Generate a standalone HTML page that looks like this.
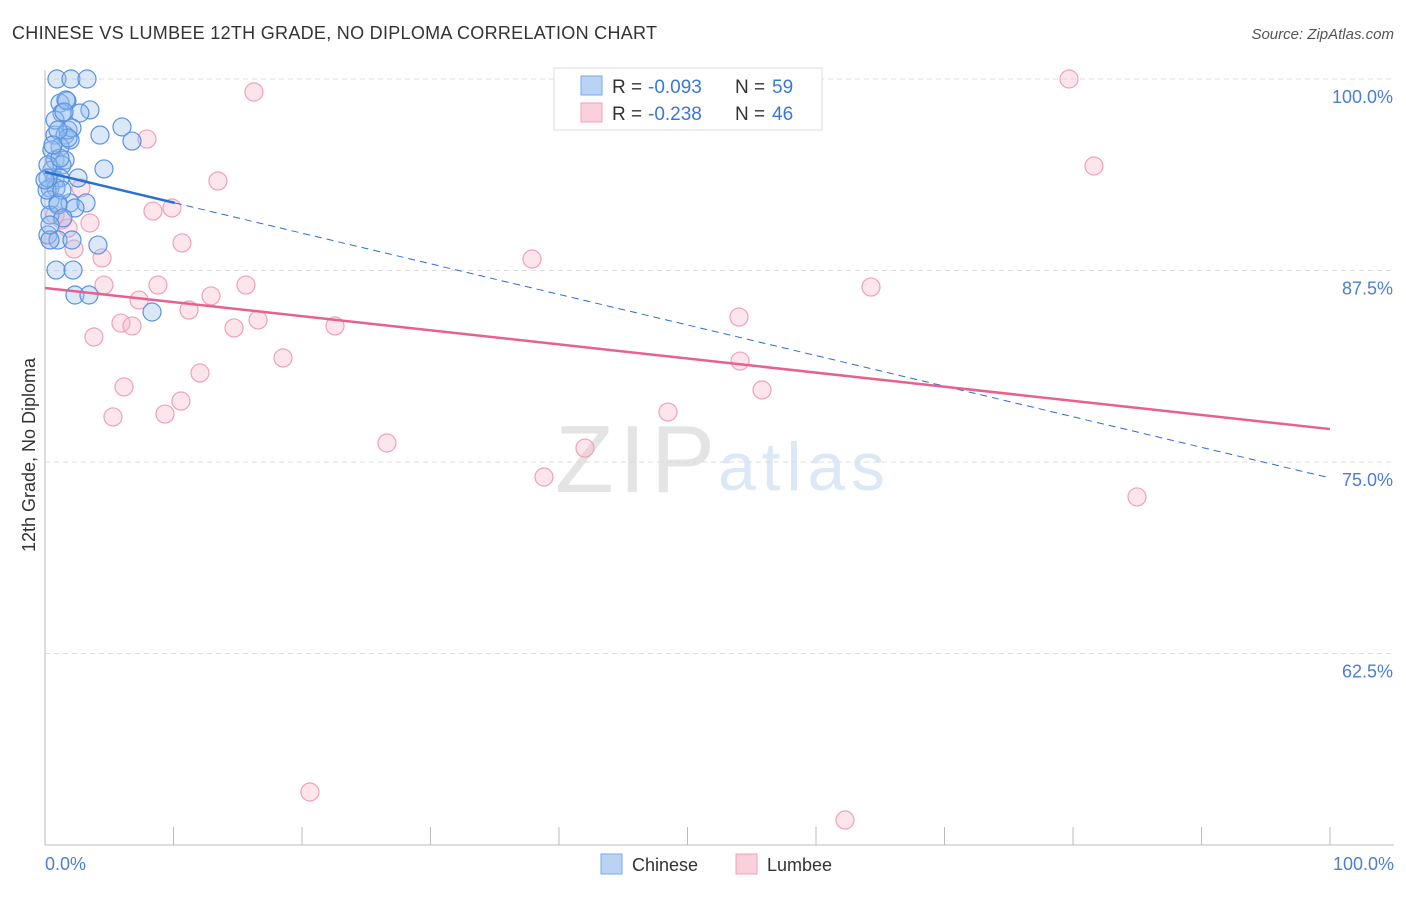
<!DOCTYPE html>
<html><head><meta charset="utf-8">
<style>
body{margin:0;background:#fff;font-family:"Liberation Sans",sans-serif;}
svg text{font-family:"Liberation Sans",sans-serif;}
</style></head>
<body>
<svg id="chart" width="1406" height="892">
<text x="12" y="39" font-size="18" fill="#333" textLength="645">CHINESE VS LUMBEE 12TH GRADE, NO DIPLOMA CORRELATION CHART</text>
<text x="1394" y="39" font-size="15" fill="#555" text-anchor="end" font-style="italic">Source: ZipAtlas.com</text>
<text x="555" y="492" font-size="96" fill="#e4e4e4" textLength="160" font-family="Liberation Serif, serif">ZIP</text>
<text x="718" y="490" font-size="68" fill="#dce8f6" textLength="167">atlas</text>
<g id="grid"></g>
<g id="axes"></g>
<g id="points"></g>
<g id="lines"></g>
<text transform="translate(35,455) rotate(-90)" font-size="18" fill="#333" text-anchor="middle">12th Grade, No Diploma</text>
<text x="45" y="870" font-size="18" fill="#4a7fd4">0.0%</text>
<text x="1394" y="870" font-size="18" fill="#4a7fd4" text-anchor="end">100.0%</text>
<g>
<rect x="554" y="68" width="268" height="62" fill="#fff" stroke="#ddd"/>
<rect x="581" y="76" width="21" height="19" fill="#b9d3f5" stroke="#7aa8e8"/>
<rect x="581" y="103" width="21" height="19" fill="#fbd0dd" stroke="#f0a0b8"/>
<text x="612" y="93" font-size="19" fill="#333">R =</text>
<text x="648" y="93" font-size="19" fill="#3a78d8">-0.093</text>
<text x="735" y="93" font-size="19" fill="#333">N =</text>
<text x="772" y="93" font-size="19" fill="#3a78d8">59</text>
<text x="612" y="120" font-size="19" fill="#333">R =</text>
<text x="648" y="120" font-size="19" fill="#3a78d8">-0.238</text>
<text x="735" y="120" font-size="19" fill="#333">N =</text>
<text x="772" y="120" font-size="19" fill="#3a78d8">46</text>
</g>
<g>
<rect x="601" y="854" width="21" height="20" fill="#b9d3f5" stroke="#7aa8e8"/>
<text x="632" y="871" font-size="18" fill="#333">Chinese</text>
<rect x="736" y="854" width="21" height="20" fill="#fbd0dd" stroke="#f0a0b8"/>
<text x="767" y="871" font-size="18" fill="#333">Lumbee</text>
</g>
</svg>
<script>
const yTicks=[100,87.5,75,62.5];
const yTickLabels=["100.0%","87.5%","75.0%","62.5%"];
const xTicks=[0,10,20,30,40,50,60,70,80,90,100];
const chinesePx=[[57,79],[71,79],[87,79],[60,103],[67,101],[62,113],[90,110],[80,113],[122,127],[100,135],[132,141],[55,135],[65,135],[70,140],[68,130],[60,147],[55,160],[65,160],[104,169],[52,170],[62,165],[55,180],[78,178],[60,178],[50,188],[56,188],[50,200],[58,203],[70,203],[86,203],[75,208],[48,235],[58,240],[72,240],[98,245],[56,270],[73,270],[75,295],[89,295],[152,312],[50,215],[52,150],[48,165],[55,120],[72,128],[50,240],[47,190],[62,190],[68,138],[58,130],[60,158],[48,178],[53,145],[66,100],[64,112],[58,205],[63,218],[45,180],[50,225]];
const lumbeePx=[[254,92],[1069,79],[147,139],[218,181],[1094,166],[81,188],[153,211],[172,208],[55,215],[62,220],[68,228],[90,223],[182,243],[74,249],[102,258],[532,259],[871,287],[246,285],[158,285],[104,285],[139,300],[211,296],[189,310],[258,320],[121,323],[132,326],[234,328],[335,326],[739,317],[94,337],[283,358],[740,361],[200,373],[124,387],[762,390],[181,401],[113,417],[165,414],[668,412],[387,443],[585,448],[544,477],[1137,497],[310,792],[845,820],[50,240]];
const chineseX=chinesePx.map(p=>+((p[0]-45)/12.85).toFixed(2));
const chineseY=chinesePx.map(p=>+(100-(p[1]-79)/15.32).toFixed(2));
const lumbeeX=lumbeePx.map(p=>+((p[0]-45)/12.85).toFixed(2));
const lumbeeY=lumbeePx.map(p=>+(100-(p[1]-79)/15.32).toFixed(2));
const chineseTrend=[93.93,73.96];
const lumbeeTrend=[86.36,77.15];

const NS="http://www.w3.org/2000/svg";
const sx=v=>45+v*12.85, sy=v=>79+(100-v)*15.32;
function mk(tag,attrs,parent){const e=document.createElementNS(NS,tag);for(const k in attrs)e.setAttribute(k,attrs[k]);parent.appendChild(e);return e;}
const grid=document.getElementById('grid'),axes=document.getElementById('axes'),pts=document.getElementById('points'),lines=document.getElementById('lines');
yTicks.forEach((t,i)=>{
 const l=mk('line',{x1:45,x2:1394,y1:sy(t),y2:sy(t),stroke:'#ddd','stroke-dasharray':'5,4'},grid);
 
 
 const tx=mk('text',{x:1393,y:sy(t)+24,'font-size':18,fill:'#4a7fd4','text-anchor':'end'},grid);
 tx.textContent=yTickLabels[i];
 
 
});
const ax=mk('line',{x1:45,x2:1394,y1:845,y2:845,stroke:'#bbb'},axes);


const ay=mk('line',{x1:45,x2:45,y1:70,y2:845,stroke:'#bbb'},axes);


xTicks.forEach(t=>{
 const l=mk('line',{x1:sx(t),x2:sx(t),y1:827,y2:845,stroke:'#bbb'},axes);
 
 
});
lumbeeX.forEach((x,i)=>{
 const c=mk('circle',{cx:sx(x),cy:sy(lumbeeY[i]),r:9,fill:'rgba(248,180,200,0.35)',stroke:'#f0a0b8','stroke-width':1.2},pts);
 
 
});
chineseX.forEach((x,i)=>{
 const c=mk('circle',{cx:sx(x),cy:sy(chineseY[i]),r:9,fill:'rgba(150,190,240,0.35)',stroke:'#5a92e0','stroke-width':1.2},pts);
 
 
});
const by=x=>chineseTrend[0]+(chineseTrend[1]-chineseTrend[0])*x/100;
const bs=mk('line',{x1:sx(0),y1:sy(by(0)),x2:sx(10.1),y2:sy(by(10.1)),stroke:'#2a6fd6','stroke-width':2.5},lines);


const bd=mk('line',{x1:sx(10.1),y1:sy(by(10.1)),x2:sx(100),y2:sy(by(100)),stroke:'#2a6fd6','stroke-width':1,'stroke-dasharray':'7,5'},lines);


const pl=mk('line',{x1:sx(0),y1:sy(lumbeeTrend[0]),x2:sx(100),y2:sy(lumbeeTrend[1]),stroke:'#e8608c','stroke-width':2.5},lines);


</script>
</body></html>
